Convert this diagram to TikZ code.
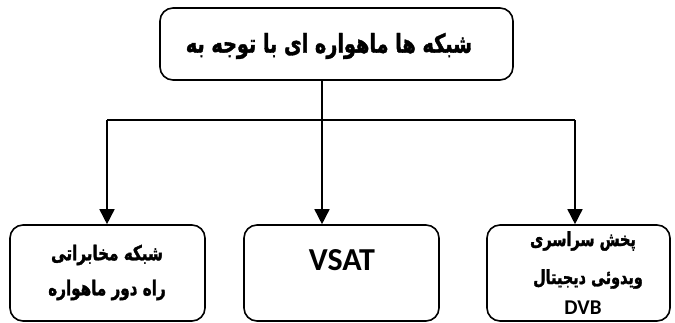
\documentclass[tikz,border=0pt]{standalone}
\usepackage{fontspec}
\setmainfont{Carlito}
\newfontfamily\arabicfont[Script=Arabic, FakeStretch=0.74, FakeBold=1.5]{DejaVu Sans}
\TeXXeTstate=1
\usetikzlibrary{arrows.meta}
\begin{document}
\begin{tikzpicture}[x=1pt,y=-1pt,
  box/.style={draw, line width=1.6pt, rounded corners=13pt, inner sep=0pt},
  link/.style={line width=1.6pt},
  arr/.style={line width=1.6pt, -{Triangle[length=15pt,width=15pt]}},
  ar/.style={inner sep=0pt},
  lat/.style={inner sep=0pt}]
\useasboundingbox (0,0) rectangle (675,323);
\node[box, minimum width=353pt, minimum height=72pt] (top) at (336.5,44) {};
\node[box, minimum width=195pt, minimum height=96pt] (left) at (107.5,273) {};
\node[box, minimum width=195pt, minimum height=96pt] (mid) at (341.5,273) {};
\node[box, minimum width=183pt, minimum height=96pt] (right) at (578.5,273) {};
\node[ar, font=\arabicfont\bfseries\fontsize{26}{30}\selectfont] (ttop) at (329,46) {\beginR شبکه ها ماهواره ای با توجه به\endR};
\node[ar, font=\arabicfont\bfseries\fontsize{20.5}{24}\selectfont] (tl1) at (107,255) {\beginR شبکه مخابراتی\endR};
\node[ar, font=\arabicfont\bfseries\fontsize{20.5}{24}\selectfont] (tl2) at (107,290) {\beginR راه دور ماهواره\endR};
\node[lat, font=\bfseries\fontsize{32}{36}\selectfont] (tm) at (342,260) {VSAT};
\node[ar, font=\arabicfont\bfseries\fontsize{19.5}{22}\selectfont] (tr1) at (583,241) {\beginR پخش سراسری\endR};
\node[ar, font=\arabicfont\bfseries\fontsize{19.5}{22}\selectfont] (tr2) at (588,279) {\beginR ویدوئی دیجیتال\endR};
\node[lat, font=\bfseries\fontsize{21}{25}\selectfont] (tr3) at (583,308) {DVB};
\coordinate (jm) at (322,120);
\coordinate (jl) at (107,120);
\coordinate (jr) at (575,120);
\draw[link] (top.south -| jm) -- (jm);
\draw[link] (jl) -- (jr);
\draw[arr] (jl) -- (left.north -| jl);
\draw[arr] (jm) -- (mid.north -| jm);
\draw[arr] (jr) -- (right.north -| jr);
\end{tikzpicture}
\end{document}
